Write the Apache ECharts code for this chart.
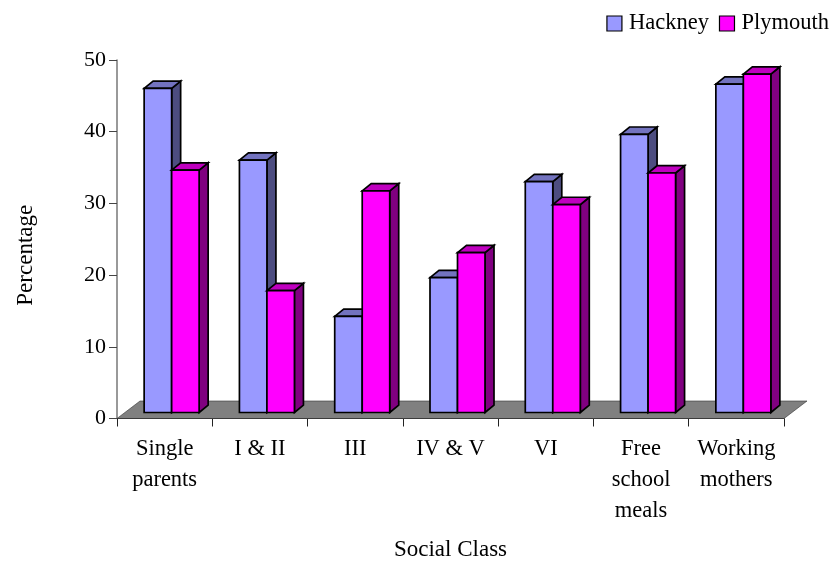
<!DOCTYPE html>
<html>
<head>
<meta charset="utf-8">
<style>html,body{margin:0;padding:0;background:#fff}#c{width:833px;height:563px}</style>
<script src="https://cdn.jsdelivr.net/npm/echarts@6/dist/echarts.min.js"></script>
</head>
<body>
<div id="c"></div>
<script>
const categories = ['Single\nparents', 'I & II', 'III', 'IV & V', 'VI', 'Free\nschool\nmeals', 'Working\nmothers'];
const hackney = [45.2, 35.2, 13.4, 18.8, 32.2, 38.8, 45.8];
const plymouth = [33.8, 17.0, 30.9, 22.3, 29.0, 33.4, 47.2];
const yTicks = [0, 10, 20, 30, 40, 50];

const FONT = '"Liberation Serif","Times New Roman",serif';
const DX = 9, DY = 7.3, BASE = 6;

function poly(points, fill) {
  return { type: 'polygon', shape: { points }, style: { fill, stroke: '#000', lineWidth: 1.7, lineJoin: 'miter' } };
}
function barRenderer(x0, w, front, top, side) {
  return function (params, api) {
    const p = api.coord([api.value(0), api.value(1)]);
    const z = api.coord([api.value(0), 0]);
    const l = p[0] + x0, r = l + w, t = p[1] - BASE, b = z[1] - BASE;
    return {
      type: 'group',
      children: [
        poly([[r, b], [r + DX, b - DY], [r + DX, t - DY], [r, t]], side),
        poly([[l, t], [l + DX, t - DY], [r + DX, t - DY], [r, t]], top),
        poly([[l, t], [r, t], [r, b], [l, b]], front)
      ]
    };
  };
}
function floorRenderer(params, api) {
  const c = params.coordSys;
  const y = api.coord([0, 0])[1];
  const a = c.x, e = c.x + c.width;
  return {
    type: 'polygon',
    shape: { points: [[a, y], [a + 23, y - 17.5], [e + 23, y - 17.5], [e, y]] },
    style: { fill: '#808080', stroke: '#333', lineWidth: 0.6 }
  };
}

const chart = echarts.init(document.getElementById('c'), null, { renderer: 'canvas' });
chart.setOption({
  animation: false,
  backgroundColor: '#fff',
  textStyle: { fontFamily: FONT },
  grid: { left: 117, right: 49, top: 60, bottom: 144.5, containLabel: false, outerBoundsMode: 'none' },
  legend: {
    data: ['Hackney', 'Plymouth'],
    top: 12, right: 4, padding: 0,
    itemWidth: 15, itemHeight: 15, itemGap: 10,
    icon: 'rect',
    itemStyle: { borderColor: '#000', borderWidth: 1.2 },
    textStyle: { fontFamily: FONT, fontSize: 22.5, color: '#000', padding: [0, 0, 0, 2] }
  },
  xAxis: {
    type: 'category',
    data: categories,
    boundaryGap: true,
    name: 'Social Class',
    nameLocation: 'middle',
    nameGap: 120,
    nameTextStyle: { fontFamily: FONT, fontSize: 23, color: '#000' },
    axisLine: { show: true, onZero: false, lineStyle: { color: '#111', width: 1.2 } },
    axisTick: { show: true, length: 8, lineStyle: { color: '#222', width: 1 } },
    axisLabel: { interval: 0, fontFamily: FONT, fontSize: 22.5, color: '#000', lineHeight: 31, margin: 15 }
  },
  yAxis: {
    type: 'value',
    min: yTicks[0], max: yTicks[yTicks.length - 1], interval: 10,
    name: 'Percentage',
    nameLocation: 'middle',
    nameGap: 80,
    nameRotate: 90,
    nameTextStyle: { fontFamily: FONT, fontSize: 23, color: '#000', padding: [0, 0, 0, -32] },
    axisLine: { show: true, lineStyle: { color: '#777', width: 1.5 } },
    axisTick: { show: true, length: 8, lineStyle: { color: '#444', width: 1 } },
    axisLabel: { fontFamily: FONT, fontSize: 22, color: '#000', margin: 11 },
    splitLine: { show: false }
  },
  series: [
    { name: 'floor', type: 'custom', z: 1, silent: true, clip: false, data: [[0, 0]], encode: { x: 0, y: 1 }, renderItem: floorRenderer },
    {
      name: 'Hackney', type: 'custom', z: 3, clip: false,
      itemStyle: { color: '#9999FF' },
      data: hackney.map((v, i) => [i, v]), encode: { x: 0, y: 1 },
      renderItem: barRenderer(-20.5, 27.5, '#9999FF', '#7373BF', '#4D4D80')
    },
    {
      name: 'Plymouth', type: 'custom', z: 4, clip: false,
      itemStyle: { color: '#FF00FF' },
      data: plymouth.map((v, i) => [i, v]), encode: { x: 0, y: 1 },
      renderItem: barRenderer(7, 27.5, '#FF00FF', '#BF00BF', '#800080')
    }
  ]
});
</script>
</body>
</html>
